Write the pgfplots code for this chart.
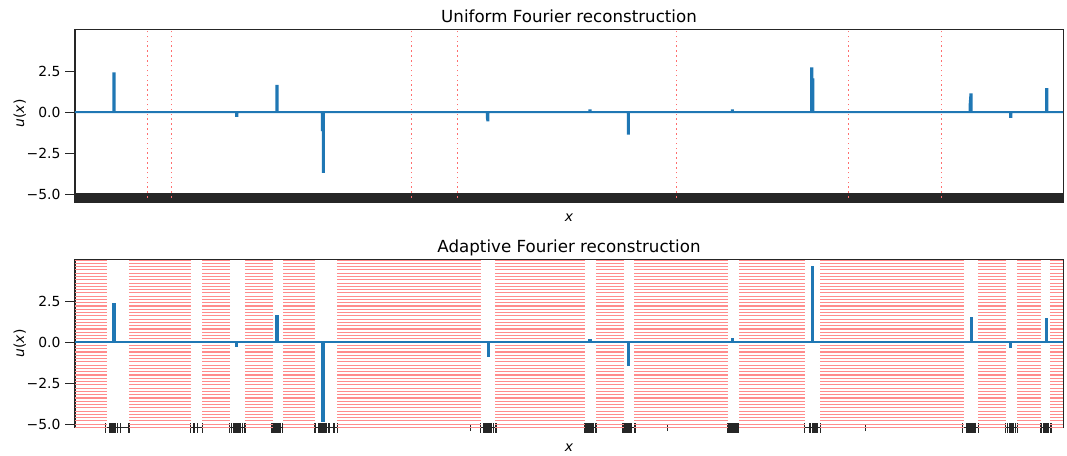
\documentclass[border=0pt]{standalone}
\usepackage{fontspec}
\setmainfont{DejaVu Sans}
\usepackage{pgfplots}
\pgfplotsset{compat=1.18}
\definecolor{C0}{HTML}{1F77B4}
\definecolor{hatch}{HTML}{FF8C8C}
\definecolor{vdot}{HTML}{FF6E6E}
\pgfplotsset{
  every axis title shift=0pt,
  mpl/.style={
    width=711.4pt, height=121.2pt, scale only axis,
    xmin=75, xmax=1063, ymin=-5.21, ymax=5.04,
    axis line style={line width=0.8pt, black!85},
    every tick/.style={line width=0.8pt, black!85},
    ytick={-5,-2.5,0,2.5},
    yticklabels={−5.0,−2.5,0.0,2.5},
    ytick pos=left, xtick pos=left,
    ytick align=outside,
    major tick length=3.5pt,
    xtick align=center,
    minor xtick={272.6,470.2,667.8,865.4},
    minor tick length=5pt,
    xticklabels={},
    unbounded coords=jump,
    title style={at={(axis description cs:0.5,1.0396)}, anchor=base, font=\fontsize{12}{14}\selectfont},
    xlabel style={at={(axis description cs:0.5,-0.1427)}, anchor=base},
    ylabel style={at={(axis description cs:-0.0516,0.5)}, anchor=base},
    xlabel={\textit{x}},
    ylabel={\textit{u}(\textit{x})},
    clip=true,
  },
}
\pgfplotstableread{
x y
75 0
113.5 0
113.5 2.36
114.5 2.36
114.5 0
236.2 0
236.2 -0.22
237.2 -0.22
237.2 0
276.5 0
276.5 1.6
277.5 1.6
277.5 0
321.8 0
321.8 -1.1
322.8 -1.1
322.8 -3.64
323.8 -3.64
323.8 0
486.8 0
486.8 -0.3
487.3 -0.5
488.3 -0.5
488.3 0
589.5 0
589.5 0.1
590.5 0.1
590.5 0
627.8 0
627.8 -1.3
628.8 -1.3
628.8 0
731.8 0
731.8 0.1
732.8 0.1
732.8 0
811.2 0
811.2 2.66
812.2 2.66
812.4 2.0
813.4 2.0
813.4 0
969.6 0
969.6 0.43
970.4 1.08
971.4 1.08
971.4 0
1010.2 0
1010.2 -0.29
1011.2 -0.29
1011.2 0
1046.2 0
1046.2 1.4
1047.2 1.4
1047.2 0
1063 0
}\uniform
\pgfplotstableread{
x y
75 0
113.5 0
113.5 2.32
114.5 2.32
114.5 0
236.2 0
236.2 -0.24
237.2 -0.24
237.2 0
276.5 0
276.5 1.59
277.5 1.59
277.5 0
322.5 0
322.5 -4.8
323.5 -4.8
323.5 0
487.8 0
487.8 -0.84
488.8 -0.84
488.8 0
589.5 0
589.5 0.12
590.5 0.12
590.5 0
627.8 0
627.8 -1.36
628.8 -1.36
628.8 0
731.8 0
731.8 0.18
732.8 0.18
732.8 0
811.5 0
811.5 4.55
812.5 4.55
812.5 0
970.5 0
970.5 1.44
971.5 1.44
971.5 0
1010.2 0
1010.2 -0.29
1011.2 -0.29
1011.2 0
1046.2 0
1046.2 1.38
1047.2 1.38
1047.2 0
1063 0
}\adaptive
\begin{document}
\begin{tikzpicture}
\useasboundingbox (0,0) rectangle (768.24pt,-327.6pt);
% ---------- top ----------
\begin{axis}[mpl, at={(54pt,-142.34pt)}, anchor=south west,
  title={Uniform Fourier reconstruction},
  xtick={75,76,...,1063},
  major tick length=7pt,
  ]
\pgfplotsinvokeforeach{147.5,171.5,411.5,457.5,676.5,848.5,941.5}{
  \addplot[vdot, line width=1.3pt, dash pattern=on 1.1pt off 2.4pt, forget plot] coordinates {(#1,-5.21) (#1,5.04)};
}
\addplot[C0, line width=1.5pt] table[x=x,y=y] {\uniform};
\end{axis}
% ---------- bottom ----------
\begin{axis}[mpl, at={(54pt,-307.94pt)}, anchor=south west,
  title={Adaptive Fourier reconstruction},
  major tick length=7pt,
  xtick={105.7,110,111,112,113,114,115,117.3,120.7,129,
    190.7,194,197.7,202.3,
    229.3,231.7,234,235,236,237,238,239,240,242.3,245,
    272,273,274,275,276,277,278,279,280,282.3,
    315,318.3,320,321,322,323,324,325,326.7,329,334,337.3,
    480.7,484,486,487,488,489,490,491.7,493.3,496,
    585,586,587,588,589,590,591,592,593.3,596,
    622.7,624,625,626,627,628,629,630,631.7,635,
    727.7,729,730,731,732,733,734,735,736,737,738.3,
    804.3,809,810.7,812,813,814,815,816,817.3,820,
    962.7,966,967,968,969,970,971,972,973,974,975,978,
    1005.7,1007.7,1009,1010,1011,1012,1013,1015,1017.3,
    1040,1041.7,1043,1044,1045,1046,1047,1048,1050,1051.3},
  ]
\pgfplotsinvokeforeach{-5.2,-5.0,...,5.0}{
  \addplot[hatch, line width=0.75pt, forget plot] coordinates {
    (75,#1) (106.7,#1) (106.7,nan)
    (129.3,#1) (190.7,#1) (190.7,nan)
    (202,#1) (230,#1) (230,nan)
    (245,#1) (272.7,#1) (272.7,nan)
    (283,#1) (315,#1) (315,nan)
    (337.3,#1) (481,#1) (481,nan)
    (495,#1) (585.3,#1) (585.3,nan)
    (596,#1) (624,#1) (624,nan)
    (634,#1) (728,#1) (728,nan)
    (739.3,#1) (805,#1) (805,nan)
    (820,#1) (964,#1) (964,nan)
    (978,#1) (1006,#1) (1006,nan)
    (1017,#1) (1040.7,#1) (1040.7,nan)
    (1050,#1) (1063,#1)};
}
\addplot[C0, line width=1.5pt] table[x=x,y=y] {\adaptive};
\end{axis}
\end{tikzpicture}
\end{document}
